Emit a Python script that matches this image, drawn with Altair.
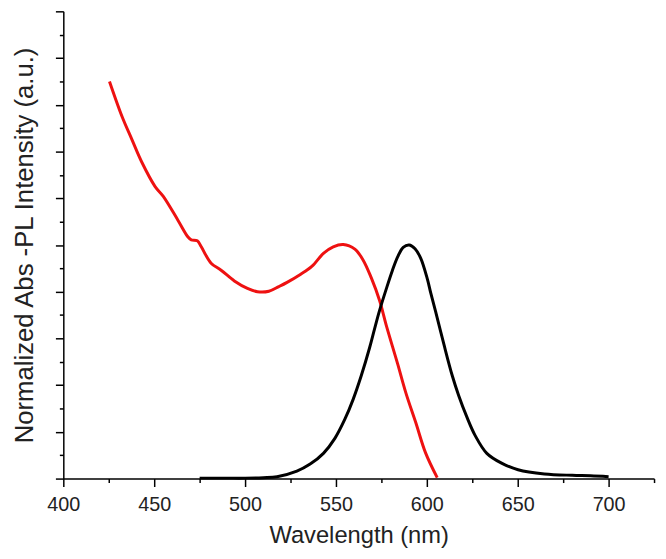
import altair as alt
import pandas as pd

# Absorption (red) spectrum
abs_nm = [425.4, 432.3, 437.7, 443.2, 450.5, 455.0, 463.2, 468.6, 470.4, 473.7, 475.9,
          481.3, 486.8, 494.1, 501.3, 506.8, 513.1, 518.6, 523.1, 530.4, 536.7, 543.1,
          548.5, 554.0, 560.4, 564.9, 569.4, 574.0, 577.6, 583.9, 588.5, 593.9, 599.3, 605.7]
abs_val = [8.50, 7.75, 7.26, 6.77, 6.25, 6.04, 5.52, 5.17, 5.11, 5.09, 4.96,
           4.61, 4.46, 4.23, 4.07, 4.00, 4.01, 4.11, 4.20, 4.37, 4.54, 4.82,
           4.96, 5.01, 4.91, 4.68, 4.30, 3.81, 3.29, 2.46, 1.83, 1.20, 0.55, 0.02]

# PL (black) spectrum
pl_nm = [475, 490, 500, 510, 517.6, 528.5, 535.8, 543.1, 549.4, 554.9, 559.4, 563.9,
         568.5, 571.2, 574.0, 577.6, 581.0, 584.0, 587.0, 590.3, 593.5, 596.6, 600.3,
         602.1, 604.8, 609.4, 614.0, 617.5, 622.0, 626.6, 633.0, 641.1, 650.2, 664.7,
         680.0, 690.0, 700.0]
pl_val = [0.01, 0.01, 0.01, 0.02, 0.04, 0.16, 0.31, 0.54, 0.86, 1.27, 1.69, 2.20,
          2.80, 3.20, 3.60, 4.05, 4.45, 4.75, 4.95, 5.00, 4.92, 4.72, 4.27,
          3.98, 3.58, 2.87, 2.20, 1.78, 1.32, 0.92, 0.54, 0.33, 0.19, 0.10,
          0.07, 0.06, 0.04]

series_names = ["Abs", "PL"]
series_colors = ["#ee1111", "#000000"]

df = pd.concat([
    pd.DataFrame({"nm": abs_nm, "val": abs_val, "series": series_names[0]}),
    pd.DataFrame({"nm": pl_nm, "val": pl_val, "series": series_names[1]}),
])

x_ticks = list(range(400, 726, 25))
y_ticks = [i * 0.5 for i in range(0, 21)]

font = "Liberation Sans"

chart = alt.Chart(df).mark_line(strokeWidth=3, interpolate="catmull-rom").encode(
    x=alt.X("nm:Q",
            scale=alt.Scale(domain=[400, 725], nice=False, zero=False),
            axis=alt.Axis(title="Wavelength (nm)", values=x_ticks, grid=False,
                          labelExpr="datum.value % 50 === 0 ? datum.label : ''",
                          labelFlush=False, labelOverlap=False,
                          tickSize={"condition": {"test": "datum.value % 50 === 0", "value": 8}, "value": 4},
                          labelFontSize=20, titleFontSize=24, labelPadding=8,
                          titlePadding=10, labelColor="#222", titleColor="#222",
                          labelFont=font, titleFont=font, titleFontWeight="normal",
                          domainColor="#000", tickColor="#000", domainWidth=1.5, tickWidth=1.5)),
    y=alt.Y("val:Q",
            scale=alt.Scale(domain=[0, 10], nice=False, zero=False),
            axis=alt.Axis(title="Normalized Abs -PL Intensity (a.u.)", values=y_ticks, grid=False,
                          labels=False,
                          tickSize={"condition": {"test": "datum.value % 1 === 0", "value": 8}, "value": 4},
                          titleFontSize=26, titlePadding=17, titleColor="#222",
                          titleFont=font, titleFontWeight="normal",
                          domainColor="#000", tickColor="#000", domainWidth=1.5, tickWidth=1.5)),
    color=alt.Color("series:N", scale=alt.Scale(domain=series_names, range=series_colors), legend=None),
).properties(
    width=598,
    height=473,
    autosize=alt.AutoSizeParams(type="none"),
    padding={"left": 56, "top": 0, "right": 4, "bottom": 76},
).configure_view(stroke=None)

chart.save("out.html", embed_options={"renderer": "svg", "actions": False})
